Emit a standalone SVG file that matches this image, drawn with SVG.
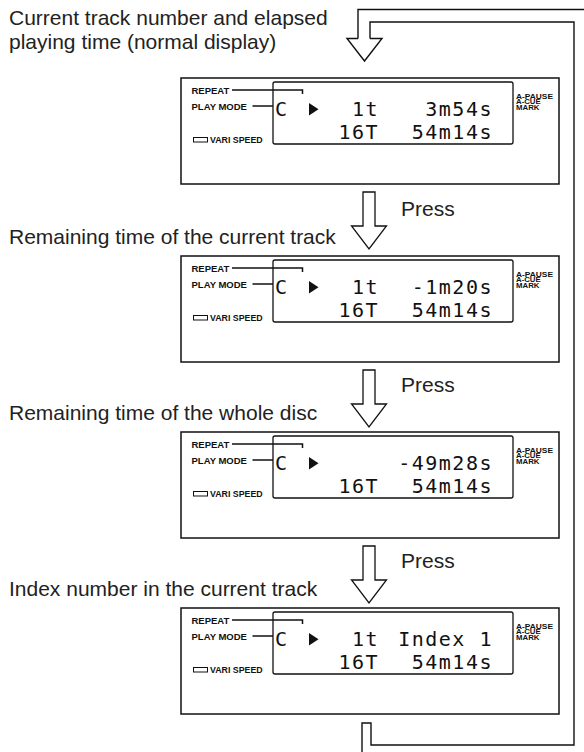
<svg xmlns="http://www.w3.org/2000/svg" width="584" height="752" viewBox="0 0 584 752">
<style>
.cap{font-family:"Liberation Sans",Arial,sans-serif;font-size:21px;fill:#222}
.lbl{font-family:"Liberation Sans",Arial,sans-serif;font-weight:bold;font-size:9.5px;fill:#111}
.sm{font-family:"Liberation Sans",Arial,sans-serif;font-weight:bold;font-size:7.8px;fill:#111}
.lcd{font-family:"DejaVu Sans Mono",monospace;font-size:20px;letter-spacing:1.5px;fill:#111}
.frame{fill:#fff;stroke:#111;stroke-width:1.5}
.inner{fill:#fff;stroke:#111;stroke-width:1.3}
.ln{fill:none;stroke:#111;stroke-width:1.5}
.arr{fill:#fff;stroke:#111;stroke-width:1.3;stroke-linejoin:miter}
.loop{fill:none;stroke:#111;stroke-width:1.4}
</style>
<defs>
<g id="panelBase">
<rect class="frame" x="181" y="0" width="378" height="106"/>
<rect class="inner" x="273" y="4" width="240" height="62" rx="2"/>
<text class="lbl" x="191.5" y="16">REPEAT</text>
<path class="ln" d="M232,12 H302.5 V16"/>
<text class="lbl" x="191.5" y="31.5">PLAY MODE</text>
<path class="ln" d="M252.5,28 H273"/>
<rect x="193.5" y="59.5" width="14" height="4.5" fill="none" stroke="#111" stroke-width="1"/>
<text class="lbl" x="210" y="64.5" style="font-size:8.8px">VARI SPEED</text>
<text class="sm" x="516" y="20.5" textLength="37" lengthAdjust="spacingAndGlyphs">A-PAUSE</text>
<text class="sm" x="516" y="26.3">A-CUE</text>
<text class="sm" x="516" y="32">MARK</text>
<text class="lcd" x="275" y="37.7" style="letter-spacing:0">C</text>
<polygon points="309,25 318.5,31.3 309,37.6" fill="#111"/>
</g>
</defs>

<g id="captions">
<text class="cap" x="9" y="25">Current track number and elapsed</text>
<text class="cap" x="9" y="49">playing time (normal display)</text>
<text class="cap" x="9" y="244">Remaining time of the current track</text>
<text class="cap" x="9" y="420">Remaining time of the whole disc</text>
<text class="cap" x="9" y="596">Index number in the current track</text>
<text class="cap" x="401" y="216">Press</text>
<text class="cap" x="401" y="392">Press</text>
<text class="cap" x="401" y="568">Press</text>
</g>

<g id="connectors">
<path class="loop" d="M358,38.5 V9.5 H590"/>
<path class="loop" d="M370,38.5 V22 H574 V745 H371 V723 H362 V756"/>
<path class="loop" d="M358,38.5 H347 L364.5,61 L382,38.5 H370"/>
<path class="arr" d="M363,192 H375 V226 H386.5 L369,249 L351.5,226 H363 Z"/>
<path class="arr" d="M363,370 H375 V404 H386.5 L369,427 L351.5,404 H363 Z"/>
<path class="arr" d="M363,546 H375 V580 H386.5 L369,603 L351.5,580 H363 Z"/>
</g>

<g id="display1" transform="translate(0,78)">
<use href="#panelBase"/>
<text class="lcd" x="379" y="37.7" text-anchor="end">1t</text>
<text class="lcd" x="493" y="37.7" text-anchor="end">3m54s</text>
<text class="lcd" x="379" y="61.3" text-anchor="end">16T</text>
<text class="lcd" x="493" y="61.3" text-anchor="end">54m14s</text>
</g>

<g id="display2" transform="translate(0,256)">
<use href="#panelBase"/>
<text class="lcd" x="379" y="37.7" text-anchor="end">1t</text>
<text class="lcd" x="493" y="37.7" text-anchor="end">-1m20s</text>
<text class="lcd" x="379" y="61.3" text-anchor="end">16T</text>
<text class="lcd" x="493" y="61.3" text-anchor="end">54m14s</text>
</g>

<g id="display3" transform="translate(0,432)">
<use href="#panelBase"/>
<text class="lcd" x="493" y="37.7" text-anchor="end">-49m28s</text>
<text class="lcd" x="379" y="61.3" text-anchor="end">16T</text>
<text class="lcd" x="493" y="61.3" text-anchor="end">54m14s</text>
</g>

<g id="display4" transform="translate(0,608)">
<use href="#panelBase"/>
<text class="lcd" x="379" y="37.7" text-anchor="end">1t</text>
<text class="lcd" x="493" y="37.7" text-anchor="end">Index 1</text>
<text class="lcd" x="379" y="61.3" text-anchor="end">16T</text>
<text class="lcd" x="493" y="61.3" text-anchor="end">54m14s</text>
</g>
</svg>
